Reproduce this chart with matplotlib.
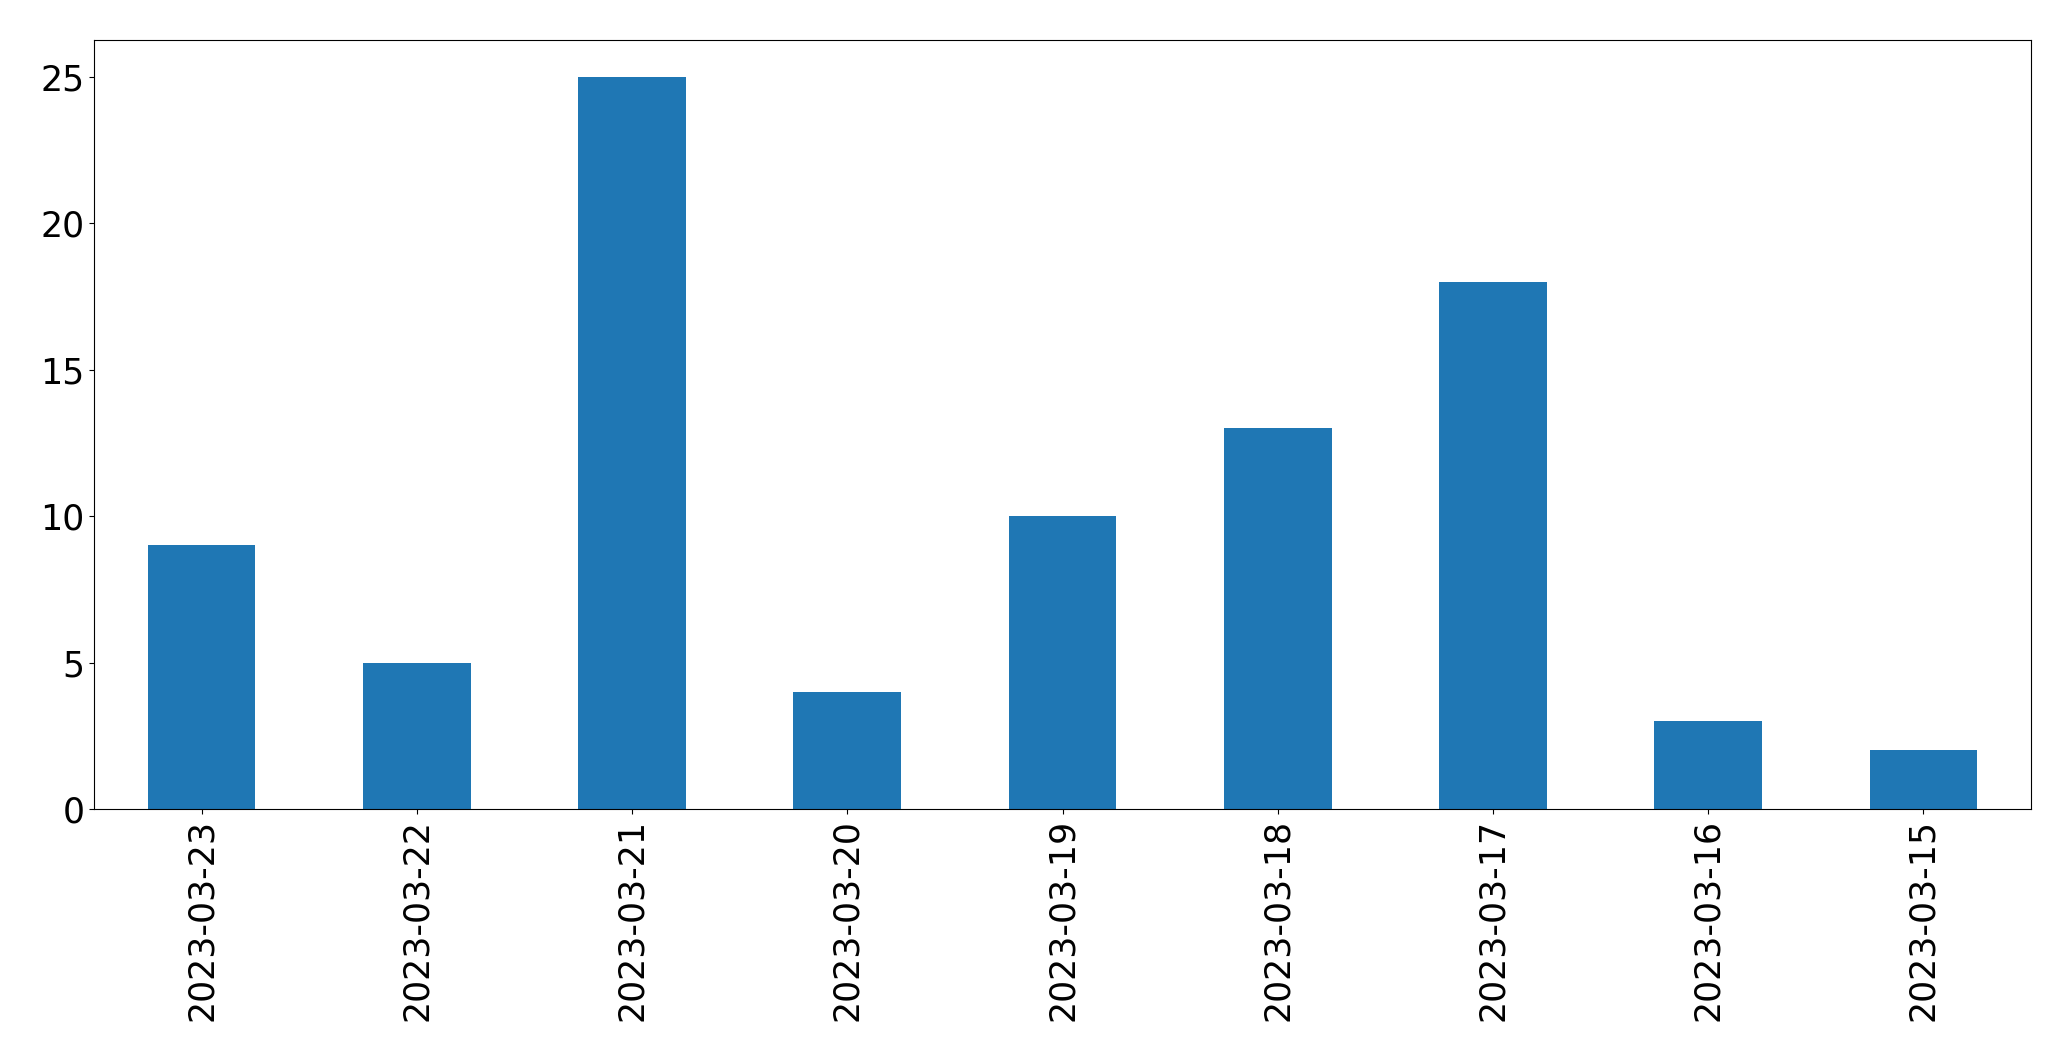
import matplotlib
matplotlib.use('Agg')
import matplotlib.pyplot as plt
import pandas as pd

dates = ['2023-03-23', '2023-03-22', '2023-03-21', '2023-03-20', '2023-03-19',
         '2023-03-18', '2023-03-17', '2023-03-16', '2023-03-15']
counts = [9, 5, 25, 4, 10, 13, 18, 3, 2]

s = pd.Series(counts, index=dates)

fig = plt.figure(figsize=(20.71, 10.61), dpi=100)
ax = fig.add_axes([94 / 2071, 1 - 809 / 1061, (2031 - 94) / 2071, (809 - 40) / 1061])
s.plot(kind='bar', ax=ax, color='#1f77b4')
ax.tick_params(labelsize=25)

fig.savefig('out.png', dpi=100)
